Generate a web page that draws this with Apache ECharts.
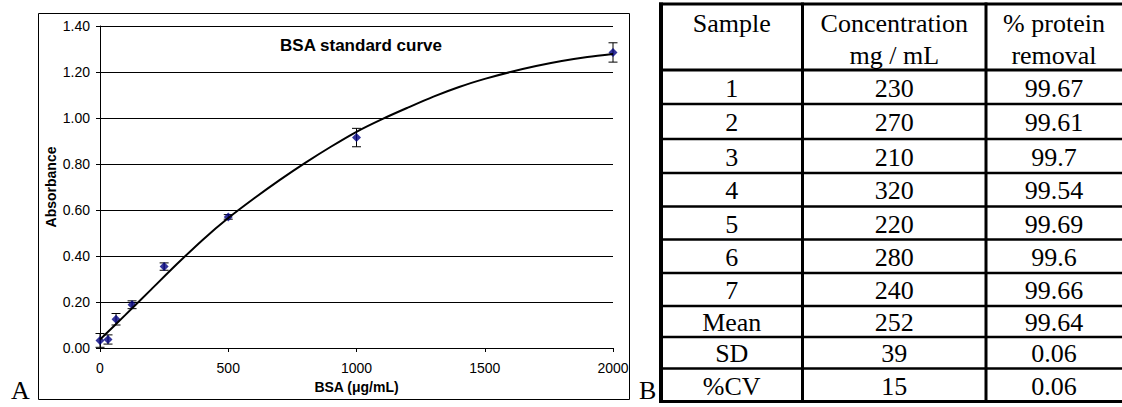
<!DOCTYPE html>
<html>
<head>
<meta charset="utf-8">
<script src="https://cdn.jsdelivr.net/npm/echarts@6/dist/echarts.min.js"></script>
<style>
  html, body { margin: 0; padding: 0; background: #fff; }
  #main { width: 1122px; height: 407px; }
</style>
</head>
<body>
<div id="main"></div>
<script>
// ---- Chart A data ----
const bsaConc      = [0, 31.25, 62.5, 125, 250, 500, 1000, 2000];
const absorbance   = [0.033, 0.037, 0.125, 0.188, 0.354, 0.57, 0.915, 1.285];
const absorbanceSD = [0.03, 0.02, 0.025, 0.017, 0.016, 0.01, 0.04, 0.042];
const curveX = [0, 100, 200, 300, 400, 500, 600, 700, 800, 900, 1000, 1100, 1200, 1300, 1400, 1500, 1600, 1700, 1800, 1900, 2000];
const curveY = [0.037, 0.145, 0.255, 0.365, 0.47, 0.565, 0.65, 0.73, 0.805, 0.875, 0.94, 0.995, 1.045, 1.093, 1.135, 1.17, 1.2, 1.226, 1.248, 1.265, 1.278];
const xTickValues = [0, 500, 1000, 1500, 2000];
const yTickValues = [0, 0.2, 0.4, 0.6, 0.8, 1.0, 1.2, 1.4];

// ---- Table B data ----
const tableHeaderLine1 = ['Sample', 'Concentration', '% protein'];
const tableHeaderLine2 = ['', 'mg / mL', 'removal'];
const sampleLabels   = ['1', '2', '3', '4', '5', '6', '7', 'Mean', 'SD', '%CV'];
const concentration  = ['230', '270', '210', '320', '220', '280', '240', '252', '39', '15'];
const proteinRemoval = ['99.67', '99.61', '99.7', '99.54', '99.69', '99.6', '99.66', '99.64', '0.06', '0.06'];

// ---- layout helpers (positions, not data) ----
const serif = '"Liberation Serif", "Times New Roman", serif';
const sans = '"Liberation Sans", Arial, sans-serif';

const graphics = [];
// chart frame
graphics.push({ type: 'rect', shape: { x: 38.5, y: 13.5, width: 591, height: 386 },
  style: { fill: 'none', stroke: '#000', lineWidth: 1 }, silent: true });
// chart title
graphics.push({ type: 'text', x: 361, y: 45.5,
  style: { text: 'BSA standard curve', font: 'bold 17px ' + sans, fill: '#000',
    textAlign: 'center', textVerticalAlign: 'middle', align: 'center', verticalAlign: 'middle' } });
// panel letters
graphics.push({ type: 'text', x: 11, y: 390,
  style: { text: 'A', font: '26px ' + serif, fill: '#000', textAlign: 'left', textVerticalAlign: 'middle', align: 'left', verticalAlign: 'middle' } });
graphics.push({ type: 'text', x: 639, y: 390,
  style: { text: 'B', font: '26px ' + serif, fill: '#000', textAlign: 'left', textVerticalAlign: 'middle', align: 'left', verticalAlign: 'middle' } });

// table geometry
const colLines = [661, 802.5, 986, 1125];
const colW = [4, 3, 3, 3];
const rowLines = [4, 70, 104, 139, 173, 206.5, 239.5, 273, 306, 337, 368.5, 401.5];
const rowW = [3, 3, 2.5, 2.5, 2.5, 2.5, 2.5, 2.5, 2.5, 2.5, 2.5, 3];
rowLines.forEach((y, i) => graphics.push({ type: 'line', silent: true,
  shape: { x1: colLines[0] - 2, y1: y, x2: 1130, y2: y }, style: { stroke: '#000', lineWidth: rowW[i] } }));
colLines.forEach((x, i) => graphics.push({ type: 'line', silent: true,
  shape: { x1: x, y1: rowLines[0] - 1.5, x2: x, y2: rowLines[rowLines.length - 1] + 1.5 }, style: { stroke: '#000', lineWidth: colW[i] } }));
const colCenters = [ (661 + 802.5) / 2, (802.5 + 986) / 2, (986 + 1122) / 2 ];
function cellText(txt, x, y) {
  graphics.push({ type: 'text', x: x, y: y, silent: true,
    style: { text: txt, font: '26px ' + serif, fill: '#000', textAlign: 'center', textVerticalAlign: 'middle', align: 'center', verticalAlign: 'middle' } });
}
tableHeaderLine1.forEach((t, c) => cellText(t, colCenters[c], 23));
tableHeaderLine2.forEach((t, c) => { if (t) cellText(t, colCenters[c], 55); });
const columns = [sampleLabels, concentration, proteinRemoval];
for (let r = 0; r < sampleLabels.length; r++) {
  const yc = (rowLines[r + 1] + rowLines[r + 2]) / 2 + 1;
  columns.forEach((col, c) => cellText(col[r], colCenters[c], yc));
}

const chart = echarts.init(document.getElementById('main'), null, { renderer: 'svg' });
chart.setOption({
  animation: false,
  backgroundColor: '#fff',
  grid: { left: 100, top: 26, right: 509, bottom: 59, containLabel: false },
  xAxis: {
    type: 'value', min: xTickValues[0], max: xTickValues[xTickValues.length - 1], interval: 500,
    name: 'BSA (\u03bcg/mL)', nameLocation: 'middle', nameGap: 30,
    nameTextStyle: { fontFamily: sans, fontWeight: 'bold', fontSize: 14, color: '#000' },
    axisLine: { show: true, lineStyle: { color: '#000', width: 1 } },
    axisTick: { show: true, inside: false, length: 4, lineStyle: { color: '#000' } },
    axisLabel: { fontFamily: sans, fontSize: 14, color: '#000', margin: 13,
      formatter: v => String(v) },
    splitLine: { show: false }
  },
  yAxis: {
    type: 'value', min: yTickValues[0], max: yTickValues[yTickValues.length - 1], interval: 0.2,
    name: 'Absorbance', nameLocation: 'middle', nameGap: 42, nameRotate: 90,
    nameTextStyle: { fontFamily: sans, fontWeight: 'bold', fontSize: 14, color: '#000' },
    axisLine: { show: true, lineStyle: { color: '#000', width: 1 } },
    axisTick: { show: true, inside: false, length: 4, lineStyle: { color: '#000' } },
    axisLabel: { fontFamily: sans, fontSize: 14, color: '#000', margin: 10,
      formatter: v => v.toFixed(2) },
    splitLine: { show: true, lineStyle: { color: '#000', width: 1 } }
  },
  series: [
    {
      type: 'custom', name: 'SD', z: 2,
      data: bsaConc.map((x, i) => [x, absorbance[i], absorbanceSD[i]]),
      renderItem: function (params, api) {
        const x = api.value(0), y = api.value(1), e = api.value(2);
        const top = api.coord([x, y + e]);
        const bot = api.coord([x, y - e]);
        const hw = 4.5;
        const st = { stroke: '#000', lineWidth: 1, fill: 'none' };
        return { type: 'group', children: [
          { type: 'line', shape: { x1: top[0], y1: top[1], x2: bot[0], y2: bot[1] }, style: st },
          { type: 'line', shape: { x1: top[0] - hw, y1: top[1], x2: top[0] + hw, y2: top[1] }, style: st },
          { type: 'line', shape: { x1: bot[0] - hw, y1: bot[1], x2: bot[0] + hw, y2: bot[1] }, style: st }
        ] };
      }
    },
    {
      type: 'scatter', name: 'BSA', z: 3,
      symbol: 'diamond', symbolSize: 9,
      itemStyle: { color: '#000080' },
      data: bsaConc.map((x, i) => [x, absorbance[i]])
    },
    {
      type: 'line', name: 'fit', z: 4,
      showSymbol: false, smooth: 0.3,
      lineStyle: { color: '#000', width: 2 },
      data: curveX.map((x, i) => [x, curveY[i]])
    }
  ],
  graphic: { elements: graphics }
});
</script>
</body>
</html>
